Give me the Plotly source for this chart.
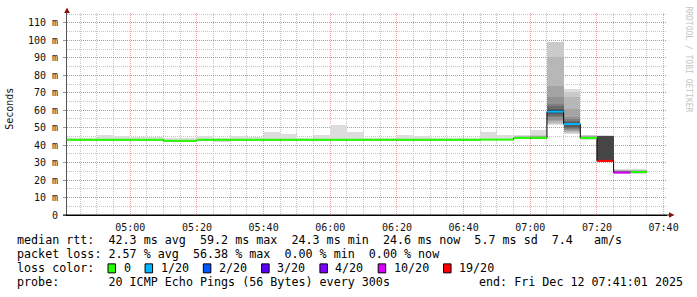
import plotly.graph_objects as go
from datetime import datetime, timedelta

# ---------------- data ----------------
DAY = "2025-12-12"
range_start = "2025-12-12 04:41:01"
range_end = "2025-12-12 07:41:01"

interval_end = ["04:45", "04:50", "04:55", "05:00", "05:05", "05:10", "05:15", "05:20",
                "05:25", "05:30", "05:35", "05:40", "05:45", "05:50", "05:55", "06:00",
                "06:05", "06:10", "06:15", "06:20", "06:25", "06:30", "06:35", "06:40",
                "06:45", "06:50", "06:55", "07:00", "07:05", "07:10", "07:15", "07:20",
                "07:25", "07:30", "07:35"]

median_ms = [43.1, 43.1, 43.1, 43.1, 43.1, 43.1, 42.5, 42.5,
             43.1, 43.1, 43.1, 43.1, 43.1, 43.1, 43.1, 43.1,
             43.1, 43.1, 43.1, 43.1, 43.1, 43.1, 43.1, 43.1,
             43.1, 43.2, 43.2, 44.1, 44.2, 59.2, 52.1, 44.1,
             31.0, 24.3, 24.6]

lost_pings = [0, 0, 0, 0, 0, 0, 0, 0,
              0, 0, 0, 0, 0, 0, 0, 0,
              0, 0, 0, 0, 0, 0, 0, 0,
              0, 0, 0, 0, 0, 1, 1, 0,
              19, 10, 0]

smoke_lo = [42.6, 42.6, 42.6, 42.6, 42.6, 42.6, 42.0, 42.0,
            42.6, 42.0, 42.6, 42.6, 42.6, 42.6, 42.6, 42.6,
            42.6, 42.6, 42.6, 42.6, 42.6, 42.6, 42.6, 42.6,
            42.6, 42.7, 42.7, 43.6, 43.7, 51.7, 46.6, 43.0,
            31.0, 23.3, 23.5]

smoke_hi = [43.9, 43.9, 46.0, 45.0, 44.7, 44.7, 44.0, 44.0,
            45.4, 44.0, 45.0, 44.5, 47.7, 46.6, 43.9, 46.0,
            51.7, 47.5, 43.9, 44.0, 46.0, 45.0, 43.9, 43.9,
            43.9, 47.3, 45.6, 45.6, 48.9, 99.3, 72.3, 46.0,
            46.0, 26.5, 26.3]

# all 20 sorted ping times for the intervals where the smoke has visible structure
detail_pings = {
    "07:00": [43.6, 43.8, 43.9, 44.0, 44.0, 44.0, 44.1, 44.1, 44.1, 44.1,
              44.2, 44.2, 44.3, 44.4, 44.5, 44.6, 44.8, 45.0, 45.2, 45.6],
    "07:05": [43.7, 43.9, 44.0, 44.1, 44.1, 44.1, 44.2, 44.2, 44.2, 44.2,
              44.3, 44.3, 44.4, 44.5, 44.6, 44.8, 45.0, 45.3, 45.6, 48.9],
    "07:10": [51.7, 52.2, 52.7, 53.6, 54.6, 56.0, 57.0, 58.0, 58.6, 59.0,
              59.6, 60.2, 61.0, 62.3, 63.7, 67.8, 74.0, 90.7, 99.0, 99.3],
    "07:15": [46.6, 47.0, 47.4, 47.9, 48.5, 49.2, 49.8, 50.4, 51.3, 51.9,
              52.3, 52.6, 53.0, 53.6, 54.8, 56.1, 61.0, 67.5, 70.5, 72.3],
    "07:20": [43.0, 43.5, 43.8, 43.9, 44.0, 44.0, 44.1, 44.1, 44.1, 44.1,
              44.2, 44.2, 44.3, 44.4, 44.5, 44.7, 45.0, 45.3, 45.6, 46.0],
    "07:25": [31.0, 31.0, 31.0, 31.0, 31.0, 31.0, 31.0, 31.0, 31.0, 31.0,
              31.0, 45.4, 45.4, 45.4, 45.4, 45.4, 45.4, 45.4, 45.4, 46.0],
    "07:30": [23.3, 23.8, 24.0, 24.1, 24.1, 24.2, 24.2, 24.2, 24.3, 24.3,
              24.4, 24.5, 24.6, 24.7, 24.8, 25.0, 25.3, 25.6, 26.0, 26.5],
    "07:35": [23.5, 23.9, 24.1, 24.3, 24.4, 24.5, 24.5, 24.6, 24.6, 24.6,
              24.7, 24.7, 24.8, 24.9, 25.0, 25.2, 25.4, 25.7, 26.0, 26.3],
}

loss_classes = [0, 1, 2, 3, 4, 10, 19]
loss_labels = ["0", "1/20", "2/20", "3/20", "4/20", "10/20", "19/20"]
loss_colors = ["#26ff00", "#00b8ff", "#0059ff", "#5e00ff", "#7e00ff", "#dd00ff", "#ff0000"]

y_tick_vals = [0, 10, 20, 30, 40, 50, 60, 70, 80, 90, 100, 110]
y_tick_text = ["0", "10 m", "20 m", "30 m", "40 m", "50 m", "60 m", "70 m",
               "80 m", "90 m", "100 m", "110 m"]

legend_rtt = "median rtt:  42.3 ms avg  59.2 ms max  24.3 ms min  24.6 ms now  5.7 ms sd  7.4   am/s"
legend_loss = "packet loss: 2.57 % avg  56.38 % max  0.00 % min  0.00 % now"
legend_color = "loss color:"
legend_probe = "probe:       20 ICMP Echo Pings (56 Bytes) every 300s"
legend_end = "end: Fri Dec 12 07:41:01 2025"
y_title = "Seconds"
watermark = "RRDTOOL / TOBI OETIKER"
N_PINGS = 20
STEP_S = 300

# ---------------- build ----------------
ends = [datetime.strptime(f"{DAY} {t}", "%Y-%m-%d %H:%M") for t in interval_end]
starts = [e - timedelta(seconds=STEP_S) for e in ends]
centers = [e - timedelta(seconds=STEP_S / 2) for e in ends]
fmt = lambda d: d.strftime("%Y-%m-%d %H:%M:%S")

pings = []
for t, m, lo, hi in zip(interval_end, median_ms, smoke_lo, smoke_hi):
    if t in detail_pings:
        pings.append(detail_pings[t])
    else:
        pings.append([lo] + [m] * (N_PINGS - 2) + [hi])

fig = go.Figure()

half = N_PINGS // 2
for k in range(1, half + 1):
    g = int(190 / half * (half - k)) + 50
    col = "#%02x%02x%02x" % (g, g, g)
    base = [p[k - 1] for p in pings]
    height = [p[N_PINGS - k] - p[k - 1] for p in pings]
    fig.add_trace(go.Bar(
        x=[fmt(c) for c in centers], y=height, base=base,
        width=STEP_S * 1000, marker=dict(color=col, line=dict(width=0)),
        hoverinfo="skip", showlegend=False))

# median thin step line
fig.add_trace(go.Scatter(
    x=[fmt(s) for s in starts] + [fmt(ends[-1])],
    y=median_ms + [median_ms[-1]],
    mode="lines", line=dict(color="#000000", width=1, shape="hv"),
    hoverinfo="skip", showlegend=False))

# loss-coloured median segments
for cls, col in zip(loss_classes, loss_colors):
    xs, ys = [], []
    for s, e, m, l in zip(starts, ends, median_ms, lost_pings):
        if l == cls:
            xs += [fmt(s), fmt(e), None]
            ys += [m, m, None]
    if xs:
        fig.add_trace(go.Scatter(x=xs, y=ys, mode="lines",
                                 line=dict(color=col, width=2),
                                 hoverinfo="skip", showlegend=False))

# ---------------- layout ----------------
L, T, W, H = 67, 13, 600, 202.5
PX = lambda px: (px - L) / W
PY = lambda py: (T + H - py) / H
y_top = H / 17.5 * 10

major_grid = "rgba(220,100,100,0.6)"
minor_grid = "rgba(150,150,150,0.55)"
dash = "1px,1px"
mono = "DejaVu Sans Mono"

fig.update_layout(
    width=697, height=297,
    margin=dict(l=L, r=697 - L - W, t=T, b=297 - T - H, pad=0, autoexpand=False),
    paper_bgcolor="white", plot_bgcolor="white",
    barmode="overlay", bargap=0, showlegend=False,
    xaxis=dict(type="date", range=[range_start, range_end],
               tick0=f"{DAY} 05:00", dtick=20 * 60 * 1000, tickformat="%H:%M",
               showgrid=True, gridcolor=major_grid, griddash=dash, gridwidth=1,
               minor=dict(tick0=f"{DAY} 05:00", dtick=STEP_S * 1000, showgrid=True,
                          gridcolor=minor_grid, griddash=dash, gridwidth=1),
               showline=True, linecolor="#000000", linewidth=1, zeroline=False,
               ticks="", ticklabelstandoff=3,
               tickfont=dict(family=mono, size=10, color="#111111")),
    yaxis=dict(range=[0, y_top], tickmode="array", tickvals=y_tick_vals, ticktext=y_tick_text,
               showgrid=True, gridcolor=major_grid, griddash=dash, gridwidth=1,
               minor=dict(tick0=0, dtick=5, showgrid=True,
                          gridcolor=minor_grid, griddash=dash, gridwidth=1),
               showline=True, linecolor="#555555", linewidth=1, zeroline=False,
               ticks="outside", ticklen=3, tickcolor="#999999", ticklabelstandoff=3,
               tickfont=dict(family=mono, size=10, color="#111111")),
)

shapes = []
# axis extension and arrows
shapes.append(dict(type="line", xref="paper", yref="paper", x0=PX(63), x1=PX(670),
                   y0=PY(215.5), y1=PY(215.5), line=dict(color="#000000", width=1)))
shapes.append(dict(type="path", xref="paper", yref="paper",
                   path=f"M {PX(67)} {PY(7.5)} L {PX(64.2)} {PY(13)} L {PX(69.8)} {PY(13)} Z",
                   fillcolor="#8b1010", line=dict(width=0)))
shapes.append(dict(type="path", xref="paper", yref="paper",
                   path=f"M {PX(674.5)} {PY(215.5)} L {PX(669)} {PY(212.7)} L {PX(669)} {PY(218.3)} Z",
                   fillcolor="#8b1010", line=dict(width=0)))

ann = []
def text(px, py, s, size=11.7, color="#000000", anchor="left", angle=0, family=mono):
    ann.append(dict(x=PX(px), y=PY(py), xref="paper", yref="paper", text=s.replace(" ", "\u00a0"),
                    showarrow=False, xanchor=anchor, yanchor="middle", textangle=angle,
                    borderpad=0, font=dict(family=family, size=size, color=color)))

CW = 7.07
text(16, 241, legend_rtt)
text(16, 255, legend_loss)
text(16, 269, legend_color)
text(16, 283, legend_probe)
text(478, 283, legend_end)
text(10, 109, y_title, size=10, angle=-90, anchor="center", color="#111111")
text(688.5, 59, watermark, size=8, color="#c4c4c4", angle=90, anchor="center")

bx = 108.0
for lab, col in zip(loss_labels, loss_colors):
    shapes.append(dict(type="rect", xref="paper", yref="paper",
                       x0=PX(bx), x1=PX(bx + 7.5), y0=PY(273.5), y1=PY(264.5),
                       fillcolor=col, line=dict(color="#000000", width=1)))
    text(bx + 14.5, 269, lab)
    bx += 30 + CW * len(lab)

fig.update_layout(shapes=shapes, annotations=ann)
fig.write_html("out.html")
